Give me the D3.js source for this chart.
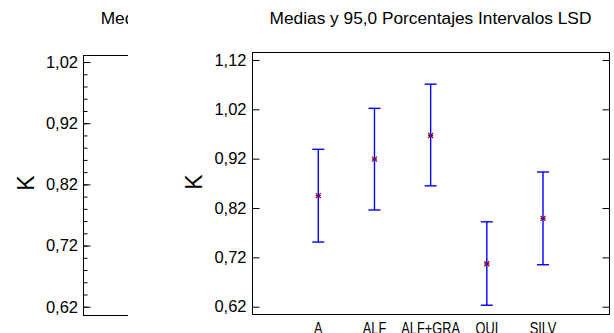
<!DOCTYPE html>
<html><head><meta charset="utf-8">
<script src="https://cdn.jsdelivr.net/npm/d3@7/dist/d3.min.js"></script>
<style>
html,body{margin:0;padding:0;background:#fff;}
text{font-family:"Liberation Sans",Arial,sans-serif;fill:#000;}
</style></head>
<body>
<script>
// Data
const categories = ["A", "ALF", "ALF+GRA", "QUI", "SILV"];
const means = [0.845, 0.919, 0.967, 0.707, 0.799];
const lower = [0.751, 0.816, 0.865, 0.623, 0.705];
const upper = [0.939, 1.022, 1.071, 0.792, 0.893];
const mainTicks = [0.62, 0.72, 0.82, 0.92, 1.02, 1.12];
const leftTicks = [0.62, 0.72, 0.82, 0.92, 1.02];
const leftMinorTicks = d3.range(0.62, 1.0201, 0.02);
const titleText = "Medias y 95,0 Porcentajes Intervalos LSD";
const leftTitleText = "Medias";
const yLabel = "K";

const W = 614, H = 333;
const svg = d3.select("body").append("svg").attr("width", W).attr("height", H);
const fmt = v => d3.format(".2f")(v).replace(".", ",");

// ---------- Left (clipped) panel ----------
svg.append("defs").append("clipPath").attr("id", "leftclip")
  .append("rect").attr("x", 0).attr("y", 0).attr("width", 128).attr("height", H);
const L = svg.append("g").attr("clip-path", "url(#leftclip)");
const ly = d3.scaleLinear().domain([0.606, 1.032]).range([315.3, 54.7]);
const lLeft = 83;
L.append("text").attr("x", 100.7).attr("y", 23.5).attr("font-size", 17.3).text(leftTitleText);
L.append("rect").attr("x", lLeft + 0.5).attr("y", Math.round(ly(1.032)) + 0.5)
  .attr("width", 200).attr("height", Math.round(ly(0.606)) - Math.round(ly(1.032)))
  .attr("fill", "none").attr("stroke", "#000").attr("stroke-width", 1);
const la = L.append("g").attr("transform", `translate(${lLeft + 0.5},0)`)
  .call(d3.axisRight(ly).tickValues(leftTicks).tickSize(7).tickFormat(""));
la.select(".domain").remove();
la.selectAll("line").attr("stroke", "#000");
const lm = L.append("g").attr("transform", `translate(${lLeft + 0.5},0)`)
  .call(d3.axisRight(ly).tickValues(leftMinorTicks).tickSize(4).tickFormat(""));
lm.select(".domain").remove();
lm.selectAll("line").attr("stroke", "#000");
L.selectAll("text.lt").data(leftTicks).enter().append("text").attr("class", "lt")
  .attr("x", 78).attr("y", d => ly(d)).attr("dy", "0.35em")
  .attr("text-anchor", "end").attr("font-size", 16.5).text(fmt);
L.append("text").attr("transform", `translate(33.5,183) rotate(-90)`)
  .attr("text-anchor", "middle").attr("font-size", 23).text(yLabel);

// ---------- Main panel ----------
const x = d3.scaleLinear().domain([-1.18, 5.18]).range([252, 609.3]);
const y = d3.scaleLinear().domain([0.6046, 1.1356]).range([314.3, 52.3]);
const x0 = 252, x1 = 609, yT = 52, yB = 314;

svg.append("text").attr("x", (x0 + x1) / 2).attr("y", 23.5).attr("text-anchor", "middle")
  .attr("font-size", 17.3).text(titleText);

svg.append("rect").attr("x", x0 + 0.5).attr("y", yT + 0.5)
  .attr("width", x1 - x0).attr("height", yB - yT)
  .attr("fill", "none").attr("stroke", "#000").attr("stroke-width", 1);

const ya = svg.append("g").attr("transform", `translate(${x0 + 0.5},0)`)
  .call(d3.axisRight(y).tickValues(mainTicks).tickSize(7).tickFormat(""));
ya.select(".domain").remove();
ya.selectAll("line").attr("stroke", "#000");
const yr = svg.append("g").attr("transform", `translate(${x1 + 0.5},0)`)
  .call(d3.axisLeft(y).tickValues(mainTicks).tickSize(7).tickFormat(""));
yr.select(".domain").remove();
yr.selectAll("line").attr("stroke", "#000");

svg.selectAll("text.yt").data(mainTicks).enter().append("text").attr("class", "yt")
  .attr("x", 246.5).attr("y", d => y(d)).attr("dy", "0.35em")
  .attr("text-anchor", "end").attr("font-size", 16.5).text(fmt);

svg.append("text").attr("transform", `translate(201.5,182) rotate(-90)`)
  .attr("text-anchor", "middle").attr("font-size", 23).text(yLabel);

// x labels (narrow, clipped at bottom edge as in the reference)
svg.selectAll("text.xl").data(categories).enter().append("text").attr("class", "xl")
  .attr("transform", (d, i) => `translate(${x(i)},333.5) scale(0.8,1)`)
  .attr("text-anchor", "middle").attr("font-size", 16).text(d => d);

// error bars
const eb = svg.append("g").attr("stroke", "#0000ff").attr("stroke-width", 1.4).attr("fill", "none");
categories.forEach((c, i) => {
  const cx = x(i);
  eb.append("line").attr("x1", cx).attr("x2", cx).attr("y1", y(upper[i])).attr("y2", y(lower[i]));
  eb.append("line").attr("x1", cx - 6).attr("x2", cx + 6).attr("y1", y(upper[i])).attr("y2", y(upper[i]));
  eb.append("line").attr("x1", cx - 6).attr("x2", cx + 6).attr("y1", y(lower[i])).attr("y2", y(lower[i]));
});
// mean markers (asterisks)
const mk = svg.append("g").attr("stroke", "#800040").attr("stroke-width", 1.2);
categories.forEach((c, i) => {
  const cx = x(i), cy = y(means[i]), r = 2.5;
  mk.append("line").attr("x1", cx - r).attr("x2", cx + r).attr("y1", cy - r).attr("y2", cy + r);
  mk.append("line").attr("x1", cx - r).attr("x2", cx + r).attr("y1", cy + r).attr("y2", cy - r);
  mk.append("line").attr("x1", cx - r).attr("x2", cx + r).attr("y1", cy).attr("y2", cy);
});
</script>
</body></html>
